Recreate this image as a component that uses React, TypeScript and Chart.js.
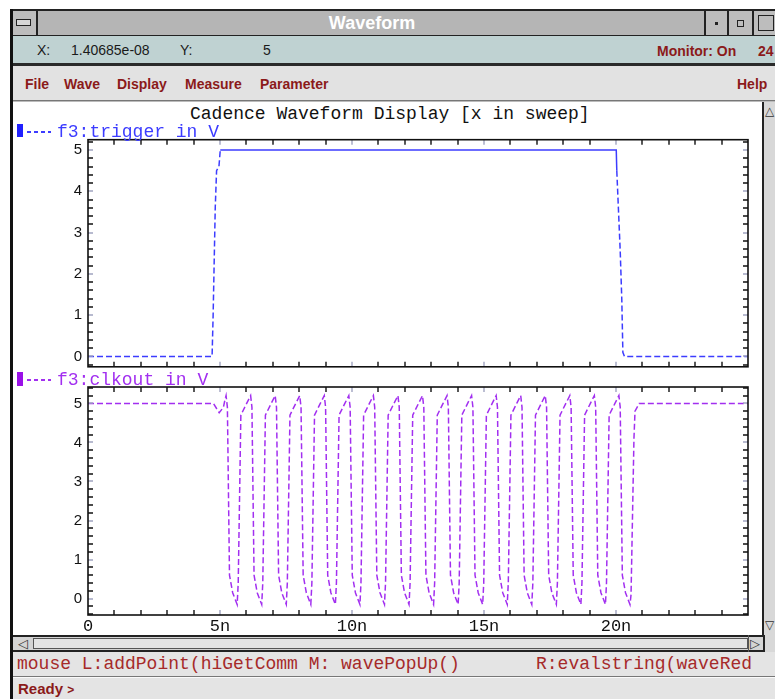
import React, { useEffect, useRef } from 'react';
import { Chart, registerables } from 'chart.js';

Chart.register(...registerables);

// ---------- data (time in ns, voltage in V) ----------
const triggerTimeNs = [0, 4.70, 4.74, 4.82, 4.87, 4.96, 5.01, 20.01, 20.03, 20.16, 20.22, 20.26, 20.32, 25];
const triggerVolts = [0, 0, 1.0, 3.6, 4.5, 4.6, 5.0, 5.0, 4.5, 2.55, 1.37, 0.1, 0, 0];

const clkTimeNs = [
  0, 4.75, 4.97, 5.13, 5.19,
  5.23, 5.28, 5.36, 5.48, 5.65, 5.69, 5.79, 6.01,
  6.16, 6.21, 6.29, 6.41, 6.58, 6.62, 6.72, 6.94,
  7.09, 7.14, 7.22, 7.34, 7.51, 7.55, 7.65, 7.87,
  8.02, 8.07, 8.15, 8.27, 8.44, 8.48, 8.58, 8.80,
  8.95, 9.00, 9.08, 9.20, 9.37, 9.41, 9.51, 9.73,
  9.88, 9.93, 10.01, 10.13, 10.30, 10.34, 10.44, 10.66,
  10.81, 10.86, 10.94, 11.06, 11.23, 11.27, 11.37, 11.59,
  11.74, 11.79, 11.87, 11.99, 12.16, 12.20, 12.30, 12.52,
  12.67, 12.72, 12.80, 12.92, 13.09, 13.13, 13.23, 13.45,
  13.60, 13.65, 13.73, 13.85, 14.02, 14.06, 14.16, 14.38,
  14.53, 14.58, 14.66, 14.78, 14.95, 14.99, 15.09, 15.31,
  15.46, 15.51, 15.59, 15.71, 15.88, 15.92, 16.02, 16.24,
  16.39, 16.44, 16.52, 16.64, 16.81, 16.85, 16.95, 17.17,
  17.32, 17.37, 17.45, 17.57, 17.74, 17.78, 17.88, 18.10,
  18.25, 18.30, 18.38, 18.50, 18.67, 18.71, 18.81, 19.03,
  19.18, 19.23, 19.31, 19.43, 19.60, 19.64, 19.74, 19.96,
  20.11, 20.16, 20.24, 20.36, 20.53, 20.57, 20.68, 20.72, 20.88, 25,
];
const clkVolts = [
  5.0, 5.0, 4.76, 4.9, 5.1,
  5.2, 4.9, 0.6, 0.15, -0.15, 0.4, 4.7, 5.0,
  5.2, 4.9, 0.6, 0.15, -0.15, 0.4, 4.7, 5.0,
  5.2, 4.9, 0.6, 0.15, -0.15, 0.4, 4.7, 5.0,
  5.2, 4.9, 0.6, 0.15, -0.15, 0.4, 4.7, 5.0,
  5.2, 4.9, 0.6, 0.15, -0.15, 0.4, 4.7, 5.0,
  5.2, 4.9, 0.6, 0.15, -0.15, 0.4, 4.7, 5.0,
  5.2, 4.9, 0.6, 0.15, -0.15, 0.4, 4.7, 5.0,
  5.2, 4.9, 0.6, 0.15, -0.15, 0.4, 4.7, 5.0,
  5.2, 4.9, 0.6, 0.15, -0.15, 0.4, 4.7, 5.0,
  5.2, 4.9, 0.6, 0.15, -0.15, 0.4, 4.7, 5.0,
  5.2, 4.9, 0.6, 0.15, -0.15, 0.4, 4.7, 5.0,
  5.2, 4.9, 0.6, 0.15, -0.15, 0.4, 4.7, 5.0,
  5.2, 4.9, 0.6, 0.15, -0.15, 0.4, 4.7, 5.0,
  5.2, 4.9, 0.6, 0.15, -0.15, 0.4, 4.7, 5.0,
  5.2, 4.9, 0.6, 0.15, -0.15, 0.4, 4.7, 5.0,
  5.2, 4.9, 0.6, 0.15, -0.15, 0.4, 4.7, 5.0,
  5.2, 4.9, 0.6, 0.15, -0.15, 0.1, 4.1, 4.8, 5.0, 5.0,
];

const yTickValues = [0, 1, 2, 3, 4, 5];
const yTickLabels = ['0', '1', '2', '3', '4', '5'];
const xTickValues = [0, 5, 10, 15, 20];
const xTickLabels = ['0', '5n', '10n', '15n', '20n'];

const X_MIN = 0;
const X_MAX = 25;
const TOP_Y = [-0.25, 5.25];
const BOTTOM_Y = [-0.42, 5.42];

const TRIGGER_COLOR = '#3c3cff';
const CLK_COLOR = '#a22ff0';
const DARK_RED = '#8b1a1a';

// ---------- inward tick marks + frame ----------
const innerTicks = {
  id: 'innerTicks',
  afterDraw(chart: any) {
    const { ctx, chartArea: a, scales } = chart;
    const x = scales.x;
    const y = scales.y;
    const len = 5;
    ctx.save();
    ctx.lineWidth = 1.4;
    for (let i = 1; i < 25; i++) {
      const px = Math.round(x.getPixelForValue(i));
      ctx.strokeStyle = i % 5 === 0 ? '#a0a4c0' : '#111';
      ctx.beginPath();
      ctx.moveTo(px, a.top);
      ctx.lineTo(px, a.top + len);
      ctx.moveTo(px, a.bottom);
      ctx.lineTo(px, a.bottom - len);
      ctx.stroke();
    }
    const i0 = Math.ceil(y.min * 5 + 1e-6);
    const i1 = Math.floor(y.max * 5 - 1e-6);
    for (let i = i0; i <= i1; i++) {
      const py = Math.round(y.getPixelForValue(i / 5));
      ctx.strokeStyle = i % 5 === 0 ? '#a0a4c0' : '#111';
      ctx.beginPath();
      ctx.moveTo(a.left, py);
      ctx.lineTo(a.left + len, py);
      ctx.moveTo(a.right, py);
      ctx.lineTo(a.right - len, py);
      ctx.stroke();
    }
    ctx.lineWidth = 1.6;
    ctx.strokeStyle = '#111';
    ctx.strokeRect(a.left, a.top, a.right - a.left, a.bottom - a.top);
    ctx.restore();
  },
};

function makeConfig(times: number[], volts: number[], color: string, yr: number[], showX: boolean, pad: any, solidAt5: boolean) {
  return {
    type: 'line',
    data: {
      datasets: [
        {
          data: times.map((t, i) => ({ x: t, y: volts[i] })),
          borderColor: color,
          borderWidth: 1.5,
          pointRadius: 0,
          tension: 0,
          fill: false,
          borderDash: [6, 3],
          segment: {
            borderDash: (c: any) => (solidAt5 && c.p0.parsed.y === 5 ? [] : undefined),
          },
        },
      ],
    },
    options: {
      animation: false,
      responsive: false,
      devicePixelRatio: 1,
      events: [],
      layout: { padding: pad },
      plugins: { legend: { display: false }, tooltip: { enabled: false }, title: { display: false } },
      scales: {
        x: {
          type: 'linear',
          min: X_MIN,
          max: X_MAX,
          display: showX,
          grid: { display: false, drawTicks: false },
          border: { display: false },
          afterBuildTicks: (s: any) => {
            s.ticks = xTickValues.map((v) => ({ value: v }));
          },
          afterFit: (s: any) => {
            if (showX) s.height = 19;
            s.paddingLeft = 0;
            s.paddingRight = 0;
            s.paddingTop = 0;
            s.paddingBottom = 0;
          },
          ticks: {
            autoSkip: false,
            maxRotation: 0,
            padding: 1,
            color: '#111',
            font: { family: "'Liberation Mono', monospace", size: 17 },
            callback: (v: number) => xTickLabels[xTickValues.indexOf(v)],
          },
        },
        y: {
          type: 'linear',
          min: yr[0],
          max: yr[1],
          grid: { display: false, drawTicks: false },
          border: { display: false },
          afterBuildTicks: (s: any) => {
            s.ticks = yTickValues.map((v) => ({ value: v }));
          },
          afterFit: (s: any) => {
            s.width = 74;
            s.paddingTop = 0;
            s.paddingBottom = 0;
            s.paddingLeft = 0;
            s.paddingRight = 0;
          },
          ticks: {
            autoSkip: false,
            padding: 6,
            color: '#111',
            font: { family: "'Liberation Sans', sans-serif", size: 15 },
            callback: (v: number) => yTickLabels[yTickValues.indexOf(v)],
          },
        },
      },
    },
    plugins: [innerTicks],
  };
}

const abs = (s: any) => ({ position: 'absolute', ...s });

export default function App() {
  const topRef = useRef<HTMLCanvasElement>(null);
  const botRef = useRef<HTMLCanvasElement>(null);

  useEffect(() => {
    const c1 = new Chart(
      topRef.current as any,
      makeConfig(triggerTimeNs, triggerVolts, TRIGGER_COLOR, TOP_Y, false, { left: 0, right: 14, top: 19.7, bottom: 13.2 }, true) as any
    );
    const c2 = new Chart(
      botRef.current as any,
      makeConfig(clkTimeNs, clkVolts, CLK_COLOR, BOTTOM_Y, true, { left: 0, right: 14, top: 7, bottom: 0 }, false) as any
    );
    return () => {
      c1.destroy();
      c2.destroy();
    };
  }, []);

  const sans = "'Liberation Sans', Arial, sans-serif";
  const mono = "'Liberation Mono', 'Courier New', monospace";

  const menuItem = (text: string, left: number) => (
    <div style={abs({ left, top: 75, fontFamily: sans, fontWeight: 'bold', fontSize: 14, color: DARK_RED, lineHeight: '18px', whiteSpace: 'nowrap' })}>
      {text}
    </div>
  );

  return (
    <div style={{ position: 'fixed', left: 0, top: 0, width: 775, height: 699, background: '#fff', overflow: 'hidden' }}>
      {/* window left border */}
      <div style={abs({ left: 10, top: 9, width: 3, height: 690, background: '#111' })} />

      {/* title bar */}
      <div style={abs({ left: 13, top: 9, width: 762, height: 27, background: '#b5b5b5', borderTop: '2px solid #222', borderBottom: '1px solid #222', boxSizing: 'border-box' })} />
      <div style={abs({ left: 13, top: 11, width: 25, height: 24, background: '#bdbdbd', borderRight: '2px solid #222', boxSizing: 'border-box' })}>
        <div style={abs({ left: 3, top: 8, width: 15, height: 7, border: '1.5px solid #222', background: '#d6d6d6', boxSizing: 'border-box' })} />
      </div>
      <div style={abs({ left: 13, top: 10, width: 690, height: 26, textAlign: 'center', fontFamily: sans, fontWeight: 'bold', fontSize: 18, color: '#fff', lineHeight: '26px', paddingLeft: 28, boxSizing: 'border-box' })}>
        Waveform
      </div>
      <div style={abs({ left: 704, top: 11, width: 25, height: 24, borderLeft: '2px solid #222', borderRight: '2px solid #222', background: '#bdbdbd', boxSizing: 'border-box' })}>
        <div style={abs({ left: 9, top: 11, width: 3, height: 3, background: '#222' })} />
      </div>
      <div style={abs({ left: 729, top: 11, width: 25, height: 24, borderRight: '2px solid #222', background: '#bdbdbd', boxSizing: 'border-box' })}>
        <div style={abs({ left: 8, top: 9, width: 7, height: 7, border: '1px solid #222', boxSizing: 'border-box' })} />
      </div>
      <div style={abs({ left: 754, top: 11, width: 21, height: 24, background: '#bdbdbd' })}>
        <div style={abs({ left: 4, top: 4, width: 16, height: 16, border: '1.5px solid #222', boxSizing: 'border-box' })} />
      </div>

      {/* status row */}
      <div style={abs({ left: 13, top: 36, width: 762, height: 27, background: '#bfd2d2' })} />
      <div style={abs({ left: 37, top: 41, fontFamily: sans, fontSize: 14, color: '#1a1a1a', lineHeight: '18px' })}>X:</div>
      <div style={abs({ left: 71, top: 41, fontFamily: sans, fontSize: 14, color: '#1a1a1a', lineHeight: '18px' })}>1.40685e-08</div>
      <div style={abs({ left: 180, top: 41, fontFamily: sans, fontSize: 14, color: '#1a1a1a', lineHeight: '18px' })}>Y:</div>
      <div style={abs({ left: 263, top: 41, fontFamily: sans, fontSize: 14, color: '#1a1a1a', lineHeight: '18px' })}>5</div>
      <div style={abs({ left: 657, top: 42, fontFamily: sans, fontWeight: 'bold', fontSize: 14, color: DARK_RED, lineHeight: '18px', whiteSpace: 'nowrap' })}>Monitor: On</div>
      <div style={abs({ left: 758, top: 42, fontFamily: sans, fontWeight: 'bold', fontSize: 14, color: DARK_RED, lineHeight: '18px' })}>24</div>

      {/* separator + menu bar */}
      <div style={abs({ left: 13, top: 63, width: 762, height: 3, background: '#2a2a2a' })} />
      <div style={abs({ left: 13, top: 66, width: 762, height: 34, background: '#e2e2e2' })} />
      {menuItem('File', 25)}
      {menuItem('Wave', 64)}
      {menuItem('Display', 117)}
      {menuItem('Measure', 185)}
      {menuItem('Parameter', 260)}
      {menuItem('Help', 737)}
      <div style={abs({ left: 13, top: 100, width: 762, height: 1, background: '#777' })} />
      <div style={abs({ left: 13, top: 101, width: 762, height: 1, background: '#bbb' })} />

      {/* right vertical scrollbar */}
      <div style={abs({ left: 762, top: 102, width: 13, height: 533, background: '#d8d8d8', borderLeft: '2px solid #222', boxSizing: 'border-box' })} />
      <div style={abs({ left: 765, top: 104, fontFamily: "'DejaVu Sans', sans-serif", fontSize: 12, color: '#333', lineHeight: '14px' })}>△</div>
      <div style={abs({ left: 765, top: 618, fontFamily: "'DejaVu Sans', sans-serif", fontSize: 12, color: '#333', lineHeight: '14px' })}>▽</div>

      {/* plot title */}
      <div style={abs({ left: 190, top: 104, fontFamily: mono, fontSize: 18, color: '#111', lineHeight: '20px', whiteSpace: 'pre' })}>
        Cadence Waveform Display [x in sweep]
      </div>

      {/* charts */}
      <canvas ref={topRef} width={748} height={260} style={abs({ left: 14, top: 120, width: 748, height: 260 })} />
      <canvas ref={botRef} width={748} height={254} style={abs({ left: 14, top: 380, width: 748, height: 254 })} />

      {/* legends */}
      <div style={abs({ left: 17, top: 124, width: 6, height: 13, background: '#2020ff' })} />
      <div style={abs({ left: 27, top: 131, width: 24, height: 1.5, backgroundImage: `repeating-linear-gradient(90deg, ${TRIGGER_COLOR} 0 4px, transparent 4px 7px)` })} />
      <div style={abs({ left: 57, top: 122, fontFamily: mono, fontSize: 18, color: TRIGGER_COLOR, lineHeight: '20px', whiteSpace: 'pre' })}>f3:trigger in V</div>

      <div style={abs({ left: 17, top: 372, width: 6, height: 14, background: '#9a10e8' })} />
      <div style={abs({ left: 27, top: 379, width: 24, height: 1.5, backgroundImage: `repeating-linear-gradient(90deg, ${CLK_COLOR} 0 4px, transparent 4px 7px)` })} />
      <div style={abs({ left: 57, top: 370, fontFamily: mono, fontSize: 18, color: CLK_COLOR, lineHeight: '20px', whiteSpace: 'pre' })}>f3:clkout in V</div>

      {/* horizontal scrollbar */}
      <div style={abs({ left: 13, top: 635, width: 762, height: 17, background: '#d4d4d4', borderTop: '2px solid #222', borderBottom: '2px solid #222', boxSizing: 'border-box' })} />
      <div style={abs({ left: 33, top: 638, width: 715, height: 11, background: '#e4e4e4', border: '1px solid #555', boxSizing: 'border-box' })} />
      <div style={abs({ left: 18, top: 635, fontFamily: "'DejaVu Sans', sans-serif", fontSize: 13, color: '#333', lineHeight: '17px' })}>◁</div>
      <div style={abs({ left: 748, top: 635, width: 15, height: 17, borderLeft: '1px solid #555', boxSizing: 'border-box', fontFamily: "'DejaVu Sans', sans-serif", fontSize: 13, color: '#333', lineHeight: '17px', paddingLeft: 1 })}>▷</div>
      <div style={abs({ left: 763, top: 635, width: 12, height: 17, background: '#d8d8d8', borderLeft: '2px solid #222', boxSizing: 'border-box' })} />

      {/* message line */}
      <div style={abs({ left: 13, top: 652, width: 762, height: 47, background: '#e4e4e4' })} />
      <div style={abs({ left: 17, top: 653, fontFamily: mono, fontSize: 18, color: '#a62a2a', lineHeight: '22px', whiteSpace: 'pre' })}>
        mouse L:addPoint(hiGetComm M: wavePopUp()
      </div>
      <div style={abs({ left: 536, top: 653, fontFamily: mono, fontSize: 18, color: '#a62a2a', lineHeight: '22px', whiteSpace: 'pre' })}>
        R:evalstring(waveRed
      </div>
      <div style={abs({ left: 13, top: 676, width: 762, height: 1, background: '#777' })} />
      <div style={abs({ left: 13, top: 677, width: 762, height: 1, background: '#fafafa' })} />
      <div style={abs({ left: 18, top: 679, fontFamily: sans, fontWeight: 'bold', fontSize: 15, color: DARK_RED, lineHeight: '20px', whiteSpace: 'pre' })}>
        Ready <span style={{ fontSize: 12 }}>&gt;</span>
      </div>
    </div>
  );
}
